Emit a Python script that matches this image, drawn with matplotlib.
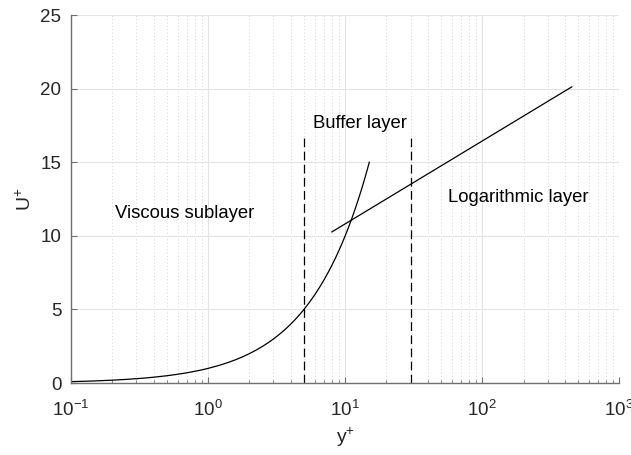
import numpy as np
import matplotlib.pyplot as plt
from matplotlib.ticker import LogLocator, NullFormatter

plt.rcParams['font.family'] = ['Liberation Sans', 'DejaVu Sans']
plt.rcParams['mathtext.fontset'] = 'custom'
plt.rcParams['mathtext.rm'] = 'Liberation Sans'
plt.rcParams['mathtext.it'] = 'Liberation Sans'
plt.rcParams['axes.unicode_minus'] = False

# viscous sublayer, U+ = y+
visc_y = [0.1, 0.12, 0.15, 0.2, 0.25, 0.3, 0.35, 0.4, 0.5, 0.6, 0.7, 0.8, 0.9,
          1.0, 1.2, 1.4, 1.6, 1.8, 2.0, 2.25, 2.5, 2.75, 3.0, 3.25, 3.5, 3.75,
          4.0, 4.25, 4.5, 4.75, 5.0, 5.5, 6.0, 6.5, 7.0, 7.5, 8.0, 8.5, 9.0,
          9.5, 10.0, 10.5, 11.0, 11.5, 12.0, 12.5, 13.0, 13.5, 14.0, 14.5, 15.0]
visc_u = [0.1, 0.12, 0.15, 0.2, 0.25, 0.3, 0.35, 0.4, 0.5, 0.6, 0.7, 0.8, 0.9,
          1.0, 1.2, 1.4, 1.6, 1.8, 2.0, 2.25, 2.5, 2.75, 3.0, 3.25, 3.5, 3.75,
          4.0, 4.25, 4.5, 4.75, 5.0, 5.5, 6.0, 6.5, 7.0, 7.5, 8.0, 8.5, 9.0,
          9.5, 10.0, 10.5, 11.0, 11.5, 12.0, 12.5, 13.0, 13.5, 14.0, 14.5, 15.0]

# log law, straight on semilog axes
log_y = [8.0, 450.0]
log_u = [10.27, 20.12]

# layer boundaries
bounds = [5, 30]
bound_top = 16.7

labels = ["Viscous sublayer", "Buffer layer", "Logarithmic layer"]
label_x = [0.21, 5.8, 56]
label_u = [11.5, 17.6, 12.6]

fig = plt.figure(figsize=(6.31, 4.55), dpi=100)
ax = fig.add_axes([0.1125, 0.158, 0.869, 0.809])

ax.semilogx(visc_y, visc_u, color='k', lw=0.9)
ax.semilogx(log_y, log_u, color='k', lw=0.9)
for b in bounds:
    ax.plot([b, b], [0, bound_top], color='k', lw=0.9, dashes=(7, 3.5))

for t, x, u in zip(labels, label_x, label_u):
    ax.text(x, u, t, fontsize=13.3, va='center', ha='left', color='k')

ax.set_xlim(0.1, 1000)
ax.set_ylim(0, 25)
ax.set_yticks([0, 5, 10, 15, 20, 25])
ax.xaxis.set_major_locator(LogLocator(base=10, numticks=10))
ax.xaxis.set_minor_locator(LogLocator(base=10, subs=np.arange(2, 10), numticks=50))
ax.xaxis.set_minor_formatter(NullFormatter())

ax.grid(True, which='major', color='#e3e3e3', lw=0.8)
ax.grid(True, which='minor', axis='x', color='#c8c8c8', lw=0.6, linestyle=(0, (1, 3)))
ax.set_axisbelow(True)

for s in ['top', 'right']:
    ax.spines[s].set_visible(False)
for s in ['left', 'bottom']:
    ax.spines[s].set_color('#707070')
    ax.spines[s].set_linewidth(1.0)

ax.tick_params(axis='both', which='major', direction='in', length=4,
               color='#707070', labelsize=13.5, labelcolor='#262626', pad=7)
ax.tick_params(axis='x', which='major', pad=12)
ax.tick_params(axis='x', which='minor', direction='in', length=2.5, color='#707070')

ax.set_xlabel(r'y$^{+}$', fontsize=14, color='#262626', labelpad=4)
ax.set_ylabel(r'U$^{+}$', fontsize=14, color='#262626', labelpad=4)

plt.savefig("out.png", dpi=100)
